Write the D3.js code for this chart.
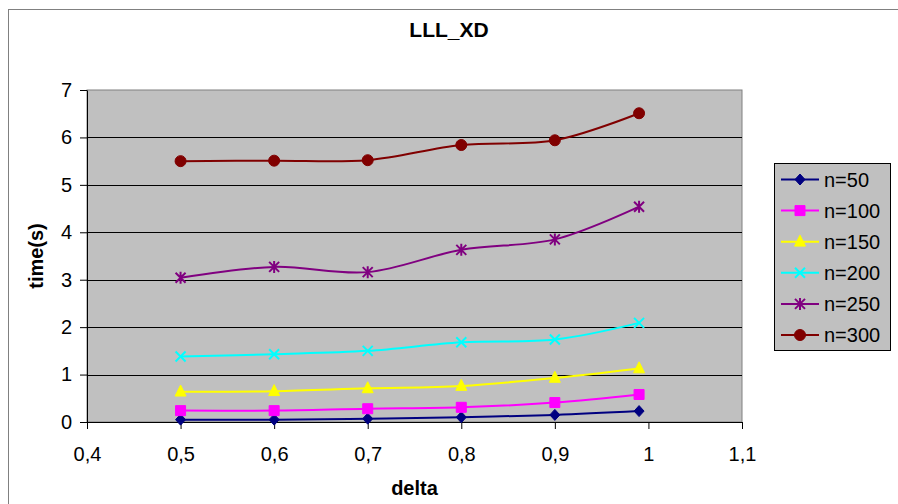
<!DOCTYPE html>
<html>
<head>
<meta charset="utf-8">
<script src="https://cdn.jsdelivr.net/npm/d3@7"></script>
<style>
  body { margin: 0; background: #fff; }
  text { font-family: Arial, "Liberation Sans", sans-serif; }
</style>
</head>
<body>
<div id="chart"></div>
<script>
// data
var deltas = [0.5, 0.6, 0.7, 0.8, 0.9, 0.99];
var seriesNames = ["n=50", "n=100", "n=150", "n=200", "n=250", "n=300"];
var n50  = [0.05, 0.05, 0.07, 0.10, 0.15, 0.23];
var n100 = [0.24, 0.24, 0.28, 0.31, 0.41, 0.58];
var n150 = [0.64, 0.65, 0.71, 0.76, 0.93, 1.13];
var n200 = [1.38, 1.43, 1.50, 1.68, 1.74, 2.09];
var n250 = [3.04, 3.27, 3.16, 3.63, 3.85, 4.54];
var n300 = [5.50, 5.51, 5.52, 5.84, 5.94, 6.51];
var xTicks = [0.4, 0.5, 0.6, 0.7, 0.8, 0.9, 1, 1.1];
var yTicks = [0, 1, 2, 3, 4, 5, 6, 7];

var colors = ["#000080", "#FF00FF", "#FFFF00", "#00FFFF", "#800080", "#800000"];

// marker shapes (size = half width in px)
var diamond = { draw: function (c, s) { c.moveTo(0, -s * 1.1); c.lineTo(s, 0); c.lineTo(0, s * 1.1); c.lineTo(-s, 0); c.closePath(); } };
var square = { draw: function (c, s) { c.rect(-s, -s, 2 * s, 2 * s); } };
var triangle = { draw: function (c, s) { c.moveTo(0, -s * 1.2); c.lineTo(s, s * 0.8); c.lineTo(-s, s * 0.8); c.closePath(); } };
var cross = { draw: function (c, s) { c.moveTo(-s, -s); c.lineTo(s, s); c.moveTo(s, -s); c.lineTo(-s, s); } };
var star = { draw: function (c, s) { c.moveTo(-s, -s); c.lineTo(s, s); c.moveTo(s, -s); c.lineTo(-s, s); c.moveTo(0, -s * 1.2); c.lineTo(0, s * 1.2); } };
var circle = { draw: function (c, s) { c.moveTo(s, 0); c.arc(0, 0, s, 0, 2 * Math.PI); } };

var shapes = [diamond, square, triangle, cross, star, circle];
var sizes = [5, 5, 5.5, 5, 5, 5.5];
var filled = [true, true, true, false, false, true];

var series = [n50, n100, n150, n200, n250, n300].map(function (vals, i) {
    return { name: seriesNames[i], color: colors[i], shape: shapes[i], size: sizes[i], filled: filled[i],
        values: vals.map(function (v, j) { return { x: deltas[j], y: v }; }) };
});

var W = 898, H = 504;
var svg = d3.select("#chart").append("svg")
    .attr("width", W)
    .attr("height", H);

// chart border (runs off the right and bottom)
svg.append("rect")
    .attr("x", 8.5).attr("y", 9.5)
    .attr("width", 900).attr("height", 500)
    .attr("fill", "#fff")
    .attr("stroke", "#808080");

var x = d3.scaleLinear().domain([0.4, 1.1]).range([87, 742]);
var y = d3.scaleLinear().domain([0, 7]).range([422, 90]);

// plot area
svg.append("rect")
    .attr("x", x(0.4)).attr("y", y(7))
    .attr("width", x(1.1) - x(0.4)).attr("height", y(0) - y(7))
    .attr("fill", "#C0C0C0")
    .attr("stroke", "#808080");

// gridlines
svg.append("g")
    .selectAll("line")
    .data(yTicks.filter(function (d) { return d > 0 && d < 7; }))
    .enter().append("line")
    .attr("x1", x(0.4)).attr("x2", x(1.1))
    .attr("y1", function (d) { return Math.round(y(d)) + 0.5; })
    .attr("y2", function (d) { return Math.round(y(d)) + 0.5; })
    .attr("stroke", "#000")
    .attr("stroke-width", 1);

var comma = function (d) { return String(+d.toFixed(2)).replace(".", ","); };

// X axis
var gx = svg.append("g")
    .attr("transform", "translate(0," + y(0) + ")")
    .call(d3.axisBottom(x).tickValues(xTicks).tickFormat(comma).tickSize(7).tickSizeOuter(0));
gx.select(".domain").attr("stroke", "#000");
gx.selectAll(".tick line").attr("stroke", "#000");
gx.selectAll(".tick text")
    .attr("y", 25).attr("dy", "0.71em")
    .attr("fill", "#000")
    .style("font-size", "20px");

// Y axis
var gy = svg.append("g")
    .attr("transform", "translate(" + x(0.4) + ",0)")
    .call(d3.axisLeft(y).tickValues(yTicks).tickFormat(d3.format("d")).tickSize(7).tickSizeOuter(0));
gy.select(".domain").attr("stroke", "#000");
gy.selectAll(".tick line").attr("stroke", "#000");
gy.selectAll(".tick text")
    .attr("x", -15)
    .attr("fill", "#000")
    .style("font-size", "20px");

// lines
var line = d3.line()
    .x(function (d) { return x(d.x); })
    .y(function (d) { return y(d.y); })
    .curve(d3.curveCardinal.tension(0));

svg.append("g")
    .selectAll("path")
    .data(series)
    .enter().append("path")
    .attr("d", function (d) { return line(d.values); })
    .attr("fill", "none")
    .attr("stroke", function (d) { return d.color; })
    .attr("stroke-width", 2);

// markers
series.forEach(function (s) {
    svg.append("g")
        .selectAll("path")
        .data(s.values)
        .enter().append("path")
        .attr("transform", function (d) { return "translate(" + x(d.x) + "," + y(d.y) + ")"; })
        .attr("d", d3.symbol().type(s.shape).size(s.size))
        .attr("fill", s.filled ? s.color : "none")
        .attr("stroke", s.color)
        .attr("stroke-width", s.filled ? 1 : 2);
});

// title and axis titles
svg.append("text")
    .attr("x", 449).attr("y", 37)
    .attr("text-anchor", "middle")
    .style("font-size", "21px").style("font-weight", "bold")
    .text("LLL_XD");

svg.append("text")
    .attr("x", (x(0.4) + x(1.1)) / 2).attr("y", 495)
    .attr("text-anchor", "middle")
    .style("font-size", "20px").style("font-weight", "bold")
    .text("delta");

svg.append("text")
    .attr("transform", "translate(43," + (y(0) + y(7)) / 2 + ") rotate(-90)")
    .attr("text-anchor", "middle")
    .style("font-size", "20px").style("font-weight", "bold")
    .text("time(s)");

// legend
var legend = svg.append("g");
legend.append("rect")
    .attr("x", 774.5).attr("y", 163.5)
    .attr("width", 116).attr("height", 187)
    .attr("fill", "#C0C0C0")
    .attr("stroke", "#000");

var item = legend.selectAll(".item")
    .data(series)
    .enter().append("g")
    .attr("class", "item")
    .attr("transform", function (d, i) { return "translate(0," + (179.5 + i * 31.1) + ")"; });

item.append("line")
    .attr("x1", 781).attr("x2", 819)
    .attr("stroke", function (d) { return d.color; })
    .attr("stroke-width", 2);

item.append("path")
    .attr("transform", "translate(800,0)")
    .attr("d", function (d) { return d3.symbol().type(d.shape).size(d.size)(); })
    .attr("fill", function (d) { return d.filled ? d.color : "none"; })
    .attr("stroke", function (d) { return d.color; })
    .attr("stroke-width", function (d) { return d.filled ? 1 : 2; });

item.append("text")
    .attr("x", 824).attr("dy", "0.36em")
    .style("font-size", "20px")
    .text(function (d) { return d.name; });
</script>
</body>
</html>
